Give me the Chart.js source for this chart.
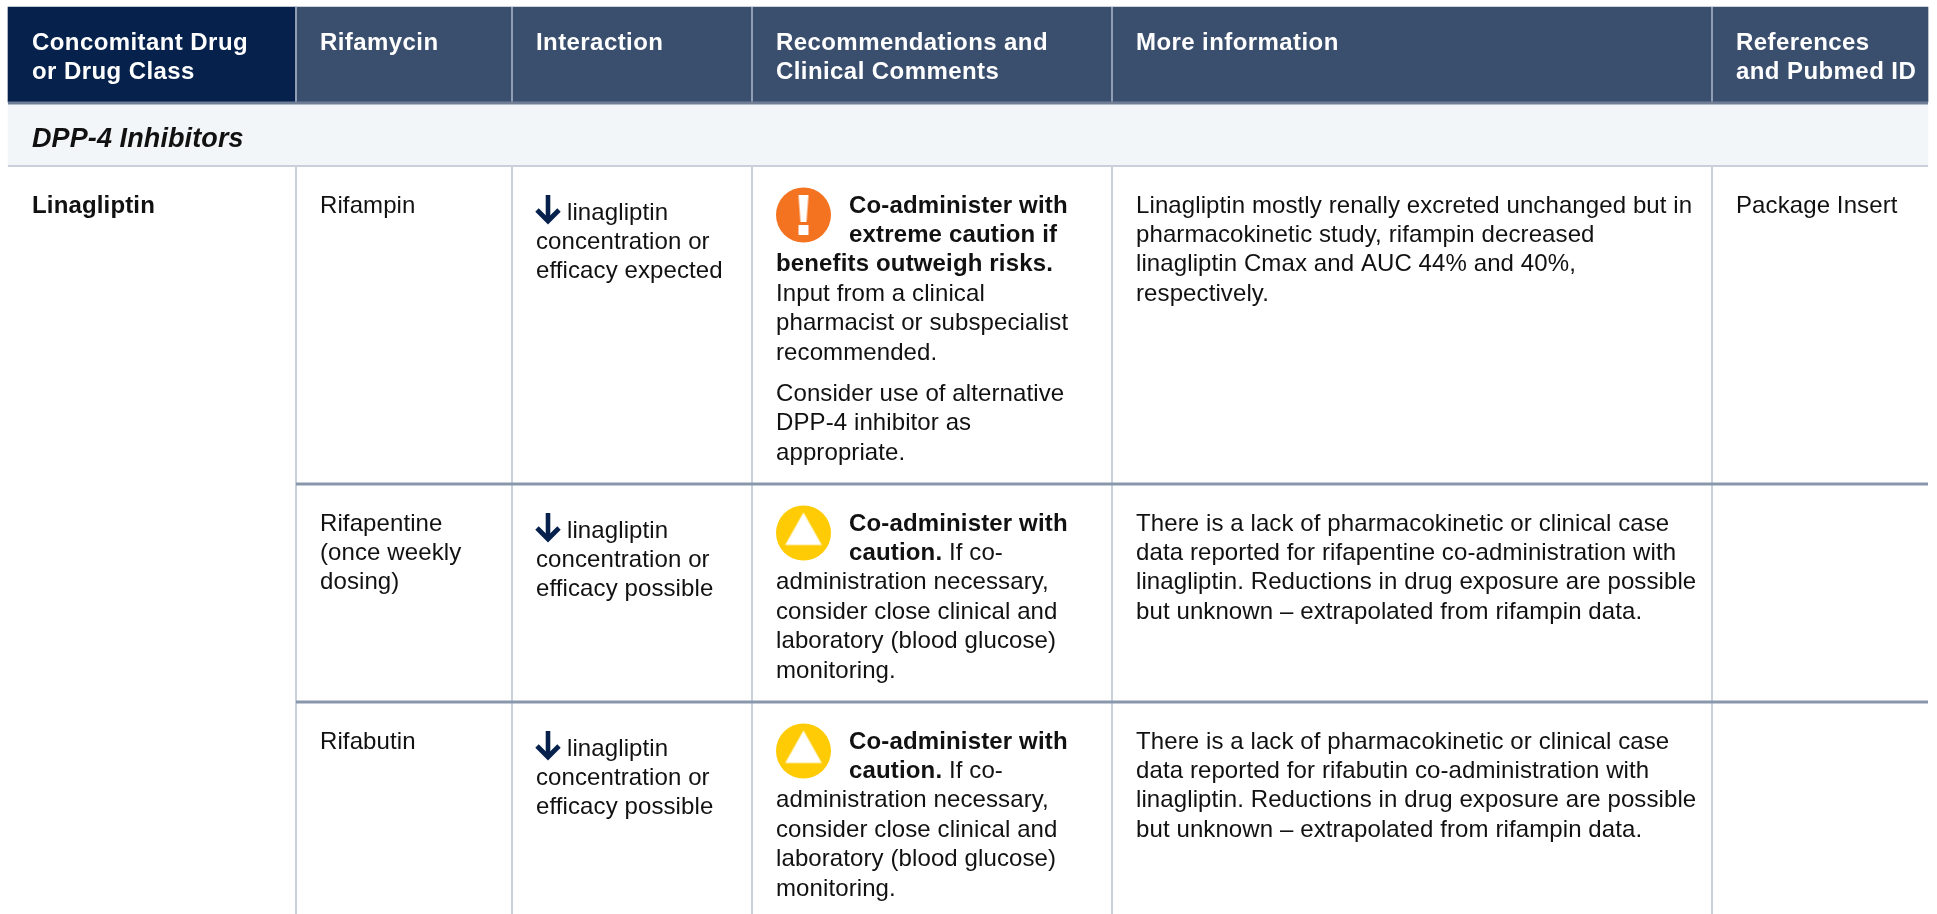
<!DOCTYPE html>
<html>
<head>
<meta charset="utf-8">
<title>DPP-4 Inhibitors</title>
<script src="https://cdn.jsdelivr.net/npm/chart.js@4"></script>
<style>
  html, body { margin: 0; padding: 0; background: #fff; overflow: hidden; }
  canvas { display: block; }
</style>
</head>
<body>
<canvas id="tabla" width="1937" height="914"></canvas>
<script>
// Texts of the table
const headers = [
  ["Concomitant Drug", "or Drug Class"],
  ["Rifamycin"],
  ["Interaction"],
  ["Recommendations and", "Clinical Comments"],
  ["More information"],
  ["References", "and Pubmed ID"],
];
const drugClass = "DPP-4 Inhibitors";
const drugName = "Linagliptin";
const rifamycins = [["Rifampin"], ["Rifapentine", "(once weekly", "dosing)"], ["Rifabutin"]];
const interactions = [
  ["linagliptin", "concentration or", "efficacy expected"],
  ["linagliptin", "concentration or", "efficacy possible"],
  ["linagliptin", "concentration or", "efficacy possible"],
];
// ** marks the bold part of a line
const recommendations = [
  ["**Co-administer with**", "**extreme caution if**", "**benefits outweigh risks.**", "Input from a clinical",
   "pharmacist or subspecialist", "recommended."],
  ["**Co-administer with**", "**caution.** If co-", "administration necessary,", "consider close clinical and",
   "laboratory (blood glucose)", "monitoring."],
  ["**Co-administer with**", "**caution.** If co-", "administration necessary,", "consider close clinical and",
   "laboratory (blood glucose)", "monitoring."],
];
const recommendationExtra = ["Consider use of alternative", "DPP-4 inhibitor as", "appropriate."];
const moreInfo = [
  ["Linagliptin mostly renally excreted unchanged but in", "pharmacokinetic study, rifampin decreased",
   "linagliptin Cmax and AUC 44% and 40%,", "respectively."],
  ["There is a lack of pharmacokinetic or clinical case", "data reported for rifapentine co-administration with",
   "linagliptin. Reductions in drug exposure are possible", "but unknown – extrapolated from rifampin data."],
  ["There is a lack of pharmacokinetic or clinical case", "data reported for rifabutin co-administration with",
   "linagliptin. Reductions in drug exposure are possible", "but unknown – extrapolated from rifampin data."],
];
const references = [["Package Insert"], [], []];

// Table geometry
const tableLeft = 8;
const tableRight = 1928;
const pageBottom = 914;
const columnEdges = [296, 512, 752, 1112, 1712];
const textColumns = [32, 320, 536, 776, 1136, 1736];
const headerTop = 7;
const headerBottom = 102;
const bandBottom = 165;
const rowRules = [484, 702];
const rowBaselines = [212.5, 530.5, 748.5];
const interactionOffset = 7;
const lineStep = 29.4;
const headerStep = 29;
const extraBaseline = 401;
const iconIndent = 73;
const iconOffset = 2.5;

const FONT = '"Liberation Sans", Arial, sans-serif';
const SIZE = 24;
const REGULAR_SPACING = "0.1px";
const BOLD_SPACING = "0.15px";

function makeIcon(w, h, paint) {
  const c = document.createElement("canvas");
  c.width = w;
  c.height = h;
  paint(c.getContext("2d"));
  return c;
}

const arrowIcon = makeIcon(26, 30, function (c) {
  c.strokeStyle = "#06224c";
  c.lineWidth = 4.6;
  c.beginPath();
  c.moveTo(13, 0);
  c.lineTo(13, 26);
  c.stroke();
  c.lineWidth = 4.8;
  c.beginPath();
  c.moveTo(2, 15);
  c.lineTo(13, 26);
  c.lineTo(24, 15);
  c.stroke();
});

const warningIcon = makeIcon(40, 36, function (c) {
  c.fillStyle = "#fff";
  c.beginPath();
  c.moveTo(20, 1);
  c.lineTo(38.3, 33.5);
  c.lineTo(1.7, 33.5);
  c.closePath();
  c.fill();
});

const exclamationIcon = makeIcon(14, 40, function (c) {
  c.fillStyle = "#fff";
  c.beginPath();
  c.moveTo(2, 0);
  c.lineTo(12, 0);
  c.lineTo(10, 27);
  c.lineTo(4, 27);
  c.closePath();
  c.fill();
  c.fillRect(2, 30, 10, 10);
});

function rule(x1, y1, x2, y2, color, width) {
  return {
    type: "scatter",
    showLine: true,
    data: [{ x: x1, y: y1 }, { x: x2, y: y2 }],
    borderColor: color,
    borderWidth: width,
    pointRadius: 0,
  };
}

function block(x1, x2, y1, y2, color) {
  return {
    type: "bar",
    indexAxis: "y",
    grouped: false,
    data: [{ x: [x1, x2], y: (y1 + y2) / 2 }],
    backgroundColor: color,
    borderWidth: 0,
    barThickness: y2 - y1,
  };
}

function icons(points, style) {
  return { type: "scatter", data: points, pointStyle: style, pointRadius: 10 };
}

function circles(points, color) {
  return { type: "scatter", data: points, backgroundColor: color, borderWidth: 0, pointRadius: 27.5 };
}

const iconX = 803.5;
const arrowX = 548;

// First dataset is drawn on top
const datasets = [
  icons([{ x: iconX, y: rowBaselines[0] + iconOffset }], exclamationIcon),
  icons(rowBaselines.slice(1).map((b) => ({ x: iconX, y: b - 1 })), warningIcon),
  circles([{ x: iconX, y: rowBaselines[0] + iconOffset }], "#f47321"),
  circles(rowBaselines.slice(1).map((b) => ({ x: iconX, y: b + iconOffset })), "#ffcb05"),
  icons(rowBaselines.map((b) => ({ x: arrowX, y: b - 2.5 })), arrowIcon),
];
rowRules.forEach(function (y) {
  datasets.push(rule(columnEdges[0], y, tableRight, y, "#8997ad", 3));
});
datasets.push(rule(tableLeft, bandBottom + 1, tableRight, bandBottom + 1, "#c9d0dc", 2));
datasets.push(rule(tableLeft, headerBottom + 1, tableRight, headerBottom + 1, "#6f7e96", 3));
columnEdges.forEach(function (x) {
  datasets.push(rule(x, headerTop, x, headerBottom, "#8f9cb1", 2));
  datasets.push(rule(x, bandBottom, x, pageBottom, "#c9d0dc", 2));
});
datasets.push(block(tableLeft, columnEdges[0], headerTop, headerBottom, "#06224c"));
datasets.push(block(columnEdges[0], tableRight, headerTop, headerBottom, "#3a4e6e"));
datasets.push(block(tableLeft, tableRight, headerBottom, bandBottom, "#f3f6f9"));

function drawLine(ctx, text, x, y, color, spacing) {
  const parts = text.split("**");
  let cx = x;
  ctx.fillStyle = color;
  parts.forEach(function (part, i) {
    if (!part) return;
    ctx.letterSpacing = spacing || (i % 2 ? BOLD_SPACING : REGULAR_SPACING);
    ctx.font = (i % 2 ? "bold " : "") + SIZE + "px " + FONT;
    ctx.fillText(part, cx, y);
    cx += ctx.measureText(part).width;
  });
}

const tableText = {
  id: "tableText",
  afterDatasetsDraw(chart) {
    const { ctx, scales } = chart;
    const px = (v) => scales.x.getPixelForValue(v);
    const py = (v) => scales.y.getPixelForValue(v);
    const ink = "#111";

    function lines(list, x, y) {
      list.forEach(function (t, i) {
        drawLine(ctx, t, px(x), py(y + i * lineStep), ink);
      });
    }

    ctx.save();
    ctx.textBaseline = "alphabetic";

    headers.forEach(function (h, i) {
      h.forEach(function (t, k) {
        drawLine(ctx, "**" + t + "**", px(textColumns[i]), py(50 + k * headerStep), "#fff", "0.42px");
      });
    });

    ctx.letterSpacing = "0.1px";
    ctx.font = "italic bold 27px " + FONT;
    ctx.fillStyle = ink;
    ctx.fillText(drugClass, px(textColumns[0]), py(147));

    drawLine(ctx, "**" + drugName + "**", px(textColumns[0]), py(rowBaselines[0]), ink);

    rowBaselines.forEach(function (b, r) {
      lines(rifamycins[r], textColumns[1], b);
      interactions[r].forEach(function (t, i) {
        const x = i === 0 ? textColumns[2] + 31 : textColumns[2];
        drawLine(ctx, t, px(x), py(b + interactionOffset + i * lineStep), ink);
      });
      recommendations[r].forEach(function (t, i) {
        const x = i < 2 ? textColumns[3] + iconIndent : textColumns[3];
        drawLine(ctx, t, px(x), py(b + i * lineStep), ink);
      });
      lines(moreInfo[r], textColumns[4], b);
      lines(references[r], textColumns[5], b);
    });
    lines(recommendationExtra, textColumns[3], extraBaseline);
    ctx.restore();
  },
};

new Chart(document.getElementById("tabla").getContext("2d"), {
  type: "bar",
  data: { datasets: datasets },
  plugins: [tableText],
  options: {
    responsive: false,
    animation: false,
    events: [],
    layout: { padding: 0, autoPadding: false },
    plugins: { legend: { display: false }, tooltip: { enabled: false } },
    scales: {
      x: { type: "linear", min: 0, max: 1937, display: false, offset: false, grid: { display: false } },
      y: { type: "linear", min: 0, max: 914, reverse: true, display: false, offset: false, grid: { display: false } },
    },
  },
});
</script>
</body>
</html>
